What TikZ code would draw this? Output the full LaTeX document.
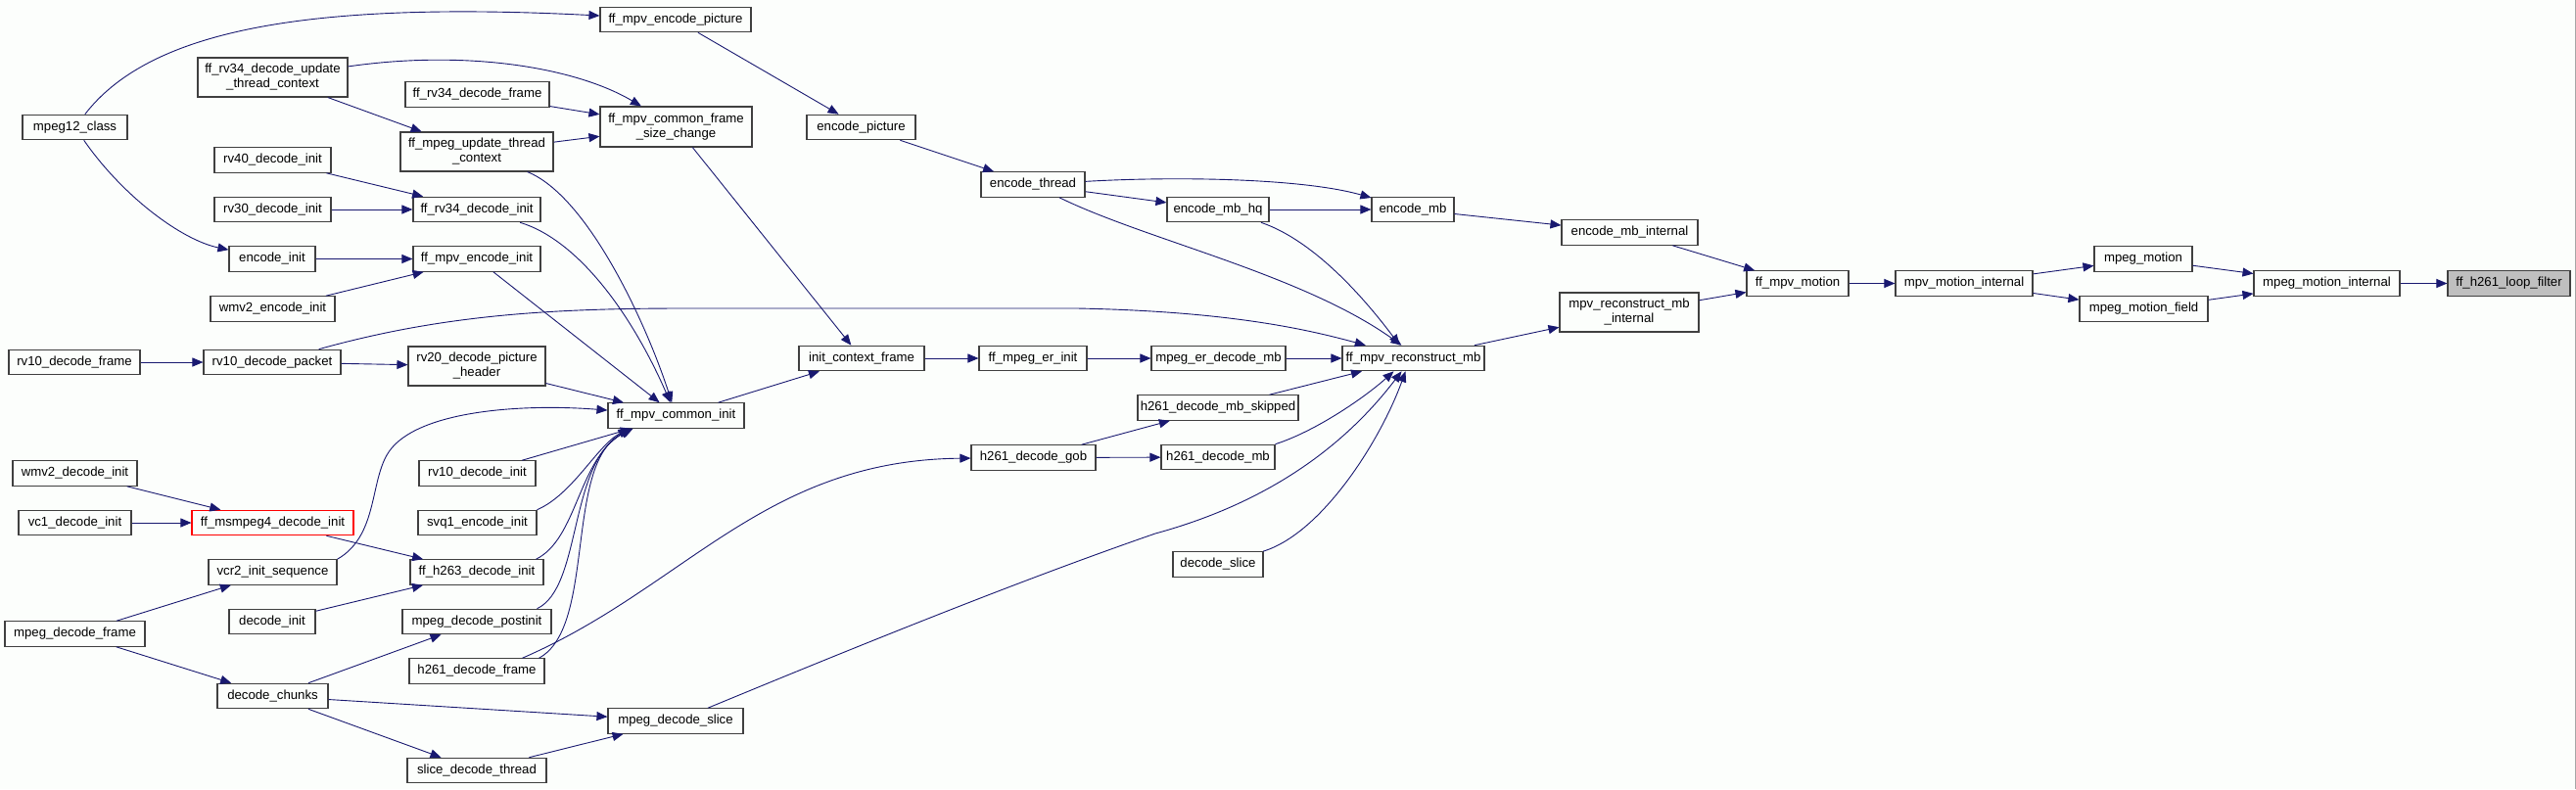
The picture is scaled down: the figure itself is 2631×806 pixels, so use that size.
\documentclass[tikz,border=0pt]{standalone}
\usepackage{fontspec}
\setmainfont{Liberation Sans}
\usepackage{tikz}
\usetikzlibrary{arrows.meta}
\definecolor{dxedge}{RGB}{25,25,112}
\definecolor{dxbox}{RGB}{64,64,64}
\definecolor{dxgray}{RGB}{191,191,191}
\definecolor{dxred}{RGB}{255,0,0}
\definecolor{dxbg}{RGB}{252,254,252}

\begin{document}
\begin{tikzpicture}[
  x=1pt, y=-1pt,
  font=\fontsize{13.2}{15}\selectfont,
  fn/.style={draw=dxbox, line width=1.1pt, fill=dxbg, inner sep=0pt, minimum height=25.5pt, align=center},
  call/.style={-{Triangle[length=11pt,width=9pt]}, dxedge, line width=0.9pt}
]
\useasboundingbox (0,0) rectangle (2631,806);
\fill[dxbg] (0,0) rectangle (2631,806);
\draw[gray!70, line width=1pt] (2630.5,0) -- (2630.5,806);

\node[fn, minimum width=107pt] (c12) at (76.5,130) {mpeg12\_class};
\node[fn, minimum width=154pt] (encpic) at (690,20) {ff\_mpv\_encode\_picture};
\node[fn, minimum width=153pt, minimum height=40pt] (rv34upd) at (278.5,79) {ff\_rv34\_decode\_update\\\_thread\_context};
\node[fn, minimum width=147pt] (rv34frm) at (487.5,96.5) {ff\_rv34\_decode\_frame};
\node[fn, minimum width=156pt, minimum height=40pt] (mpegupd) at (487,155) {ff\_mpeg\_update\_thread\\\_context};
\node[fn, minimum width=155pt, minimum height=41pt] (fsc) at (690.5,129.5) {ff\_mpv\_common\_frame\\\_size\_change};
\node[fn, minimum width=119pt] (rv40init) at (278.5,163.5) {rv40\_decode\_init};
\node[fn, minimum width=119pt] (rv30init) at (278.5,214) {rv30\_decode\_init};
\node[fn, minimum width=130pt] (rv34init) at (487,214) {ff\_rv34\_decode\_init};
\node[fn, minimum width=88pt] (encinit) at (278,264.5) {encode\_init};
\node[fn, minimum width=130pt] (mpvencinit) at (487,264.5) {ff\_mpv\_encode\_init};
\node[fn, minimum width=127pt] (wmv2enc) at (278.5,315.5) {wmv2\_encode\_init};
\node[fn, minimum width=134pt] (rv10frm) at (76,370) {rv10\_decode\_frame};
\node[fn, minimum width=140pt] (rv10pkt) at (278,370) {rv10\_decode\_packet};
\node[fn, minimum width=140pt, minimum height=40pt] (rv20hdr) at (487,374) {rv20\_decode\_picture\\\_header};
\node[fn, minimum width=139pt] (cinit) at (690.5,424.5) {ff\_mpv\_common\_init};
\node[fn, minimum width=128pt] (ctxfrm) at (880,366) {init\_context\_frame};
\node[fn, minimum width=119pt] (rv10init) at (487.5,483.5) {rv10\_decode\_init};
\node[fn, minimum width=127pt] (wmv2dec) at (76.5,483.5) {wmv2\_decode\_init};
\node[fn, minimum width=115pt] (vc1init) at (76.5,534) {vc1\_decode\_init};
\node[fn, draw=dxred, minimum width=165pt] (msmp4) at (278.5,534) {ff\_msmpeg4\_decode\_init};
\node[fn, minimum width=121pt] (svq1enc) at (487.5,534) {svq1\_encode\_init};
\node[fn, minimum width=131pt] (vcr2seq) at (278.5,584.5) {vcr2\_init\_sequence};
\node[fn, minimum width=136pt] (h263init) at (487,584.5) {ff\_h263\_decode\_init};
\node[fn, minimum width=88pt] (decinit) at (278,635) {decode\_init};
\node[fn, minimum width=152pt] (postinit) at (487,635) {mpeg\_decode\_postinit};
\node[fn, minimum width=143pt] (mpgdecfrm) at (76.5,647.5) {mpeg\_decode\_frame};
\node[fn, minimum width=138pt] (h261frm) at (487,685.5) {h261\_decode\_frame};
\node[fn, minimum width=113pt] (chunks) at (278.5,711) {decode\_chunks};
\node[fn, minimum width=138pt] (mpgslice) at (690,736.5) {mpeg\_decode\_slice};
\node[fn, minimum width=142pt] (slicethr) at (487,787) {slice\_decode\_thread};
\node[fn, minimum width=111pt] (encpict) at (879.5,130) {encode\_picture};
\node[fn, minimum width=106pt] (encthr) at (1055,188.5) {encode\_thread};
\node[fn, minimum width=110pt] (erinit) at (1055,366) {ff\_mpeg\_er\_init};
\node[fn, minimum width=127pt] (h261gob) at (1055.5,467.5) {h261\_decode\_gob};
\node[fn, minimum width=104pt] (encmbhq) at (1244,214) {encode\_mb\_hq};
\node[fn, minimum width=137pt] (erdecmb) at (1244.5,366) {mpeg\_er\_decode\_mb};
\node[fn, minimum width=164pt] (h261skip) at (1244,416.5) {h261\_decode\_mb\_skipped};
\node[fn, minimum width=116pt] (h261mb) at (1244,467) {h261\_decode\_mb};
\node[fn, minimum width=92pt] (decslice) at (1244,576.5) {decode\_slice};
\node[fn, minimum width=84pt] (encmb) at (1443,214) {encode\_mb};
\node[fn, minimum width=145pt] (recmb) at (1443.5,366) {ff\_mpv\_reconstruct\_mb};
\node[fn, minimum width=139pt] (encmbint) at (1664.5,237.5) {encode\_mb\_internal};
\node[fn, minimum width=142pt, minimum height=40pt] (recmbint) at (1664,319) {mpv\_reconstruct\_mb\\\_internal};
\node[fn, minimum width=104pt] (motion) at (1836,289.5) {ff\_mpv\_motion};
\node[fn, minimum width=140pt] (motint) at (2006,289.5) {mpv\_motion\_internal};
\node[fn, minimum width=100pt] (mpgmot) at (2189,264.5) {mpeg\_motion};
\node[fn, minimum width=131pt] (mpgmotfld) at (2189.5,315.5) {mpeg\_motion\_field};
\node[fn, minimum width=149pt] (mpgmotint) at (2376.5,289.5) {mpeg\_motion\_internal};
\node[fn, fill=dxgray, minimum width=125pt] (loopflt) at (2562.5,289.5) {ff\_h261\_loop\_filter};

\draw[call] (c12) .. controls (150,35) and (300,0) .. (encpic);
\draw[call] (c12) .. controls (125,200) and (185,245) .. (encinit);
\draw[call] (rv34upd) .. controls (480,50) and (590,70) .. (fsc);
\draw[call] (rv34upd) -- (mpegupd);
\draw[call] (rv34frm) -- (fsc);
\draw[call] (mpegupd) -- (fsc);
\draw[call] (mpegupd) .. controls (600,200) and (660,330) .. (cinit);
\draw[call] (rv40init) -- (rv34init);
\draw[call] (rv30init) -- (rv34init);
\draw[call] (rv34init) .. controls (590,245) and (645,320) .. (cinit);
\draw[call] (encinit) -- (mpvencinit);
\draw[call] (wmv2enc) -- (mpvencinit);
\draw[call] (mpvencinit) -- (cinit);
\draw[call] (encpic) -- (encpict);
\draw[call] (fsc) -- (ctxfrm);
\draw[call] (rv10frm) -- (rv10pkt);
\draw[call] (rv10pkt) -- (rv20hdr);
\draw[call] (rv10pkt) .. controls (450,322) and (560,315) .. (700,315) -- (1100,315) .. controls (1250,318) and (1330,335) .. (recmb);
\draw[call] (rv20hdr) -- (cinit);
\draw[call] (vcr2seq.north east) .. controls (385,548) and (378,495) .. (395,465) .. controls (420,420) and (530,412) .. (cinit);
\draw[call] (rv10init) -- (cinit);
\draw[call] (svq1enc.north east) .. controls (585,505) and (610,455) .. ([xshift=-48pt]cinit.south);
\draw[call] ([xshift=-8pt]h263init.north east) .. controls (590,550) and (590,470) .. ([xshift=-46pt]cinit.south);
\draw[call] ([xshift=-15pt]postinit.north east) .. controls (595,600) and (580,470) .. ([xshift=-44pt]cinit.south);
\draw[call] ([xshift=-6pt]h261frm.north east) .. controls (610,640) and (575,470) .. ([xshift=-44pt]cinit.south);
\draw[call] ([xshift=-23pt]h261frm.north east) .. controls (700,600) and (780,470) .. (h261gob);
\draw[call] (cinit) -- (ctxfrm);
\draw[call] (ctxfrm) -- (erinit);
\draw[call] (erinit) -- (erdecmb);
\draw[call] (erdecmb) -- (recmb);
\draw[call] (encpict) -- (encthr);
\draw[call] (encthr) .. controls (1200,180) and (1330,182) .. (encmb);
\draw[call] (encthr) -- (encmbhq);
\draw[call] ([xshift=27pt]encthr.south) .. controls (1170,245) and (1330,280) .. ([xshift=-12pt]recmb.north);
\draw[call] (encmbhq) -- (encmb);
\draw[call] ([xshift=44pt]encmbhq.south) .. controls (1340,245) and (1390,300) .. ([xshift=-14pt]recmb.north);
\draw[call] (encmb) -- (encmbint);
\draw[call] (encmbint) -- (motion);
\draw[call] (recmb) -- (recmbint);
\draw[call] (recmbint) -- (motion);
\draw[call] (motion) -- (motint);
\draw[call] (motint) -- (mpgmot);
\draw[call] (motint) -- (mpgmotfld);
\draw[call] (mpgmot) -- (mpgmotint);
\draw[call] (mpgmotfld) -- (mpgmotint);
\draw[call] (mpgmotint) -- (loopflt);
\draw[call] (h261skip) -- (recmb);
\draw[call] (h261gob) -- (h261skip);
\draw[call] (h261gob) -- (h261mb);
\draw[call] (h261mb.north east) .. controls (1345,440) and (1395,405) .. ([xshift=-20pt]recmb.south);
\draw[call] ([xshift=33pt]mpgslice.north) .. controls (900,650) and (1050,590) .. (1180,545) .. controls (1290,515) and (1370,460) .. ([xshift=-12pt]recmb.south);
\draw[call] ([xshift=46pt]decslice.north) .. controls (1350,545) and (1410,450) .. ([xshift=-8pt]recmb.south);
\draw[call] (wmv2dec) -- (msmp4);
\draw[call] (vc1init) -- (msmp4);
\draw[call] (msmp4) -- (h263init);
\draw[call] (decinit) -- (h263init);
\draw[call] (mpgdecfrm) -- (vcr2seq);
\draw[call] (mpgdecfrm) -- (chunks);
\draw[call] (chunks) -- (postinit);
\draw[call] (chunks) -- (mpgslice);
\draw[call] (chunks) -- (slicethr);
\draw[call] (slicethr) -- (mpgslice);
\end{tikzpicture}
\end{document}
